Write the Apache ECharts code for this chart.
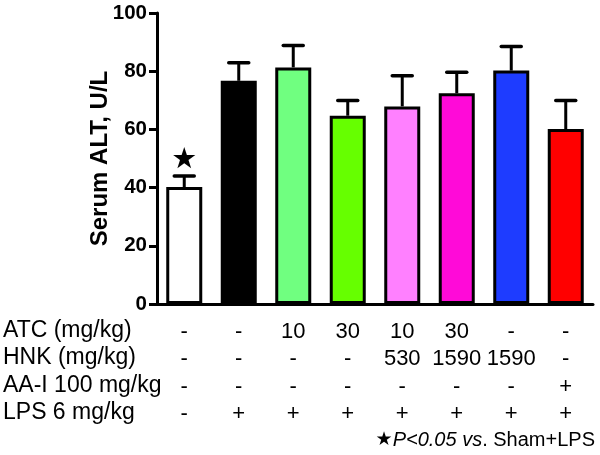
<!DOCTYPE html>
<html>
<head>
<meta charset="utf-8">
<script src="https://cdn.jsdelivr.net/npm/echarts@6/dist/echarts.min.js"></script>
<style>
  html, body { margin: 0; padding: 0; background: #fff; }
  #chart { width: 600px; height: 455px; }
</style>
</head>
<body>
<div id="chart"></div>
<script>
    // groups, left to right
    const groups = ['Sham', 'LPS', 'ATC10', 'ATC30', 'ATC10+HNK530', 'ATC30+HNK1590', 'HNK1590', 'AA-I'];
    const altMean = [40.2, 76.7, 81.3, 64.7, 67.9, 72.4, 80.2, 60.1];
    const altSem = [3.8, 6.2, 7.5, 5.2, 10.5, 7.2, 8.3, 9.8];
    const barColors = ['#ffffff', '#000000', '#70ff80', '#66ff00', '#ff80ff', '#ff0ad8', '#1e3cff', '#ff0000'];
    const sigMarks = ['★', '', '', '', '', '', '', ''];

    // treatment table under the axis
    const rowLabels = ['ATC (mg/kg)', 'HNK (mg/kg)', 'AA-I 100 mg/kg', 'LPS 6 mg/kg'];
    const atcRow = ['-', '-', '10', '30', '10', '30', '-', '-'];
    const hnkRow = ['-', '-', '-', '-', '530', '1590', '1590', '-'];
    const aaRow = ['-', '-', '-', '-', '-', '-', '-', '+'];
    const lpsRow = ['-', '+', '+', '+', '+', '+', '+', '+'];
    const tableRows = [atcRow, hnkRow, aaRow, lpsRow];

    const yTicks = [0, 20, 40, 60, 80, 100];

    const font = '"Liberation Sans", Arial, sans-serif';
    const rowY = [332, 359.5, 387, 414.5];

    const chart = echarts.init(document.getElementById('chart'));

    const rowGraphics = rowLabels.map((t, i) => ({
        type: 'text',
        left: 3,
        top: rowY[i] - 13,
        style: { text: t, fontSize: 23, fontFamily: font, fill: '#000' }
    }));

    chart.setOption({
        backgroundColor: '#ffffff',
        animation: false,
        grid: { left: 157, right: 7, top: 13, bottom: 151, containLabel: false },
        xAxis: {
            type: 'category',
            data: groups,
            axisLine: { lineStyle: { color: '#000', width: 3 } },
            axisTick: { alignWithLabel: true, length: 9, lineStyle: { color: '#000', width: 3 } },
            axisLabel: {
                interval: 0,
                margin: 14,
                fontSize: 22,
                lineHeight: 27.5,
                fontFamily: font,
                color: '#000',
                formatter(v, i) {
                    return tableRows.map(r => r[i]).join('\n');
                }
            }
        },
        yAxis: {
            type: 'value',
            min: yTicks[0],
            max: yTicks[yTicks.length - 1],
            interval: 20,
            name: 'Serum ALT, U/L',
            nameLocation: 'middle',
            nameGap: 45,
            nameMoveOverlap: false,
            nameTextStyle: { fontSize: 24, fontWeight: 'bold', fontFamily: font, color: '#000' },
            axisLine: { show: true, lineStyle: { color: '#000', width: 3 } },
            axisTick: { show: true, length: 8, lineStyle: { color: '#000', width: 3 } },
            axisLabel: { margin: 10, fontSize: 20.5, fontWeight: 'bold', fontFamily: font, color: '#000' },
            splitLine: { show: false }
        },
        graphic: rowGraphics.concat([{
            type: 'text',
            right: 5,
            top: 430,
            style: {
                text: '{s|★}{i|P<0.05 vs}{r|. Sham+LPS}',
                rich: {
                    s: { fontSize: 19, fontFamily: 'DejaVu Sans', fill: '#000' },
                    i: { fontSize: 20, fontStyle: 'italic', fontFamily: font, fill: '#000' },
                    r: { fontSize: 20, fontFamily: font, fill: '#000' }
                }
            }
        }]),
        series: [{
            type: 'custom',
            z: 1,
            renderItem(params, api) {
                const m = api.value(1);
                const s = api.value(2);
                const base = api.coord([api.value(0), m]);
                const top = api.coord([api.value(0), m + s]);
                const children = [
                    { type: 'line', shape: { x1: base[0], y1: base[1], x2: top[0], y2: top[1] }, style: { stroke: '#000', lineWidth: 3 } },
                    { type: 'line', shape: { x1: top[0] - 10, y1: top[1], x2: top[0] + 10, y2: top[1] }, style: { stroke: '#000', lineWidth: 3.5, lineCap: 'round' } }
                ];
                const mark = sigMarks[params.dataIndex];
                if (mark) {
                    children.push({
                        type: 'text',
                        style: { text: mark, x: top[0], y: top[1] - 15, align: 'center', verticalAlign: 'middle', fontSize: 29, fontFamily: 'DejaVu Sans', fill: '#000' }
                    });
                }
                return { type: 'group', children };
            },
            data: altMean.map((m, i) => [i, m, altSem[i]])
        }, {
            type: 'bar',
            z: 2,
            barWidth: 36,
            itemStyle: { borderColor: '#000', borderWidth: 3 },
            data: altMean.map((m, i) => ({ value: m, itemStyle: { color: barColors[i] } }))
        }]
    });
</script>
</body>
</html>
